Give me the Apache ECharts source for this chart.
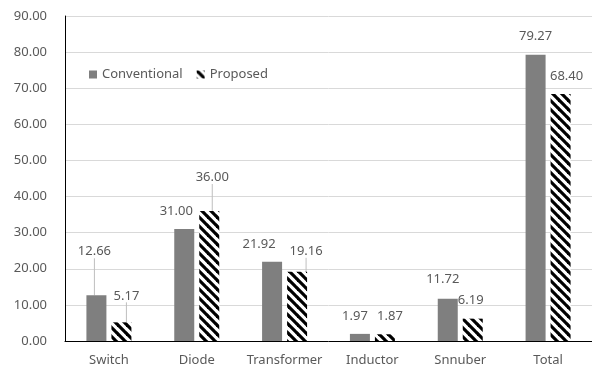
<!DOCTYPE html>
<html>
<head>
<meta charset="utf-8">
<script src="https://cdn.jsdelivr.net/npm/echarts@6/dist/echarts.min.js"></script>
<style>
  html, body { margin: 0; padding: 0; background: #fff; }
  #chart { width: 592px; height: 379px; }
</style>
</head>
<body>
<div id="chart"></div>
<script>
// Loss breakdown per component
const categories = ['Switch', 'Diode', 'Transformer', 'Inductor', 'Snnuber', 'Total'];
const conventional = [12.66, 31.00, 21.92, 1.97, 11.72, 79.27];
const proposed = [5.17, 36.00, 19.16, 1.87, 6.19, 68.40];

// Label nudges (dx, dy) and which labels get a leader line
const convLabelShift = [[-2, -27], [-8, -1], [-13, -1], [-5, -1], [-5, -3], [0, -2]];
const propLabelShift = [[5, -10], [3, -17], [9, -4], [5, -1], [-2, -2], [6, -1]];
const convLeader = [true, false, false, false, false, false];
const propLeader = [true, true, true, false, false, false];

const textColor = '#595959';
const fontFamily = '"Noto Sans", "Open Sans", sans-serif';

// Diagonal black/white hatch fill
function makeHatch() {
  const s = 9;
  const c = document.createElement('canvas');
  c.width = s; c.height = s;
  const g = c.getContext('2d');
  g.fillStyle = '#fff';
  g.fillRect(0, 0, s, s);
  g.strokeStyle = '#000';
  g.lineWidth = 3.2;
  for (let k = -1; k <= 1; k++) {
    g.beginPath();
    g.moveTo(k * s - 1, -1);
    g.lineTo(k * s + s + 1, s + 1);
    g.stroke();
  }
  return c;
}
const hatch = { image: makeHatch(), repeat: 'repeat' };

function items(values, leaders) {
  return values.map((v, i) => ({ value: v, labelLine: { show: leaders[i] } }));
}

const chart = echarts.init(document.getElementById('chart'), null, { renderer: 'canvas' });
chart.setOption({
  animation: false,
  textStyle: { fontFamily: fontFamily },
  grid: { left: 65, right: -3, top: 16, bottom: 38, containLabel: false },
  legend: {
    left: 84, top: 63,
    itemWidth: 8, itemHeight: 8, itemGap: 14,
    textStyle: { color: textColor, fontSize: 13, fontFamily: fontFamily },
    data: [
      { name: 'Conventional', icon: 'rect' },
      { name: 'Proposed', icon: 'rect' }
    ]
  },
  xAxis: {
    type: 'category',
    data: categories,
    axisLine: { lineStyle: { color: '#000', width: 1 } },
    axisTick: { show: false },
    axisLabel: { color: textColor, fontSize: 13, margin: 13, interval: 0, hideOverlap: false,
                 fontFamily: fontFamily }
  },
  yAxis: {
    type: 'value',
    min: 0, max: 90, interval: 10,
    axisLine: { show: true, lineStyle: { color: '#000', width: 1 } },
    axisTick: { show: false },
    axisLabel: { color: textColor, fontSize: 13, margin: 18, fontFamily: fontFamily,
                 formatter: v => v.toFixed(2) },
    splitLine: { lineStyle: { color: '#d9d9d9', width: 1 } }
  },
  series: [
    {
      name: 'Conventional', type: 'bar', barWidth: 20, barGap: '25%',
      itemStyle: { color: '#7f7f7f' },
      data: items(conventional, convLeader),
      label: { show: true, position: 'top', distance: 10, color: textColor, fontSize: 13,
               fontFamily: fontFamily, formatter: p => p.value.toFixed(2) },
      labelLine: { lineStyle: { color: '#bfbfbf', width: 1 } },
      labelLayout: p => ({ dx: convLabelShift[p.dataIndex][0], dy: convLabelShift[p.dataIndex][1] })
    },
    {
      name: 'Proposed', type: 'bar', barWidth: 20,
      itemStyle: { color: hatch },
      data: items(proposed, propLeader),
      label: { show: true, position: 'top', distance: 10, color: textColor, fontSize: 13,
               fontFamily: fontFamily, formatter: p => p.value.toFixed(2) },
      labelLine: { lineStyle: { color: '#bfbfbf', width: 1 } },
      labelLayout: p => ({ dx: propLabelShift[p.dataIndex][0], dy: propLabelShift[p.dataIndex][1] })
    }
  ]
});
</script>
</body>
</html>
